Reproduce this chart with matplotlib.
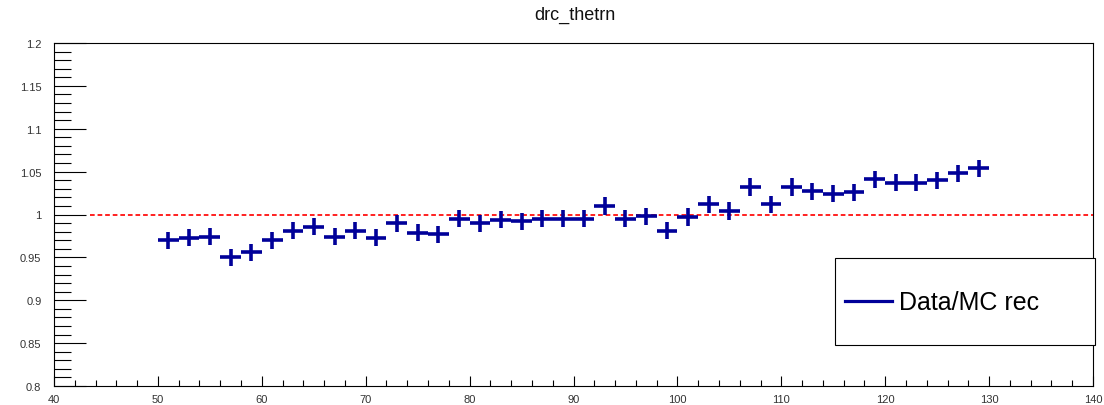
# drc_thetrn : Data/MC ratio
import matplotlib
matplotlib.use("Agg")
import matplotlib.pyplot as plt
from matplotlib.patches import Rectangle
from matplotlib.lines import Line2D
from matplotlib.ticker import MultipleLocator

plt.rcParams['font.family'] = ['Liberation Sans', 'DejaVu Sans']

# bin centres (bin width 2)
theta = [51, 53, 55, 57, 59, 61, 63, 65, 67, 69,
         71, 73, 75, 77, 79, 81, 83, 85, 87, 89,
         91, 93, 95, 97, 99, 101, 103, 105, 107, 109,
         111, 113, 115, 117, 119, 121, 123, 125, 127, 129]
ratio = [0.970, 0.973, 0.974, 0.950, 0.956, 0.970, 0.981, 0.986, 0.974, 0.981,
         0.973, 0.990, 0.979, 0.977, 0.995, 0.990, 0.994, 0.992, 0.995, 0.995,
         0.995, 1.010, 0.995, 0.998, 0.981, 0.997, 1.012, 1.004, 1.032, 1.012,
         1.032, 1.027, 1.024, 1.026, 1.041, 1.037, 1.037, 1.040, 1.048, 1.054]
ratio_err = [0.010] * len(theta)
half_bin = [1.0] * len(theta)

navy = "#000099"

fig = plt.figure(figsize=(11.04, 4.06), dpi=100)
ax = fig.add_axes([54 / 1104, 1 - 387 / 406, (1093 - 54) / 1104, (387 - 44) / 406])

ax.axhline(1.0, xmin=0.035, color="#ff2020", lw=1.4, dashes=(2.4, 1.5), zorder=1)
ax.errorbar(theta, ratio, xerr=half_bin, yerr=ratio_err, fmt="none",
            ecolor=navy, elinewidth=2.6, capsize=0, zorder=3)

ax.set_xlim(40, 140)
ax.set_ylim(0.8, 1.2)
ax.xaxis.set_major_locator(MultipleLocator(10))
ax.xaxis.set_minor_locator(MultipleLocator(2))
ax.yaxis.set_major_locator(MultipleLocator(0.05))
ax.yaxis.set_minor_locator(MultipleLocator(0.01))
ax.yaxis.set_major_formatter(plt.FuncFormatter(lambda v, p: f"{v:g}"))

ax.tick_params(axis="both", which="both", direction="in", top=False, right=False,
               colors="black", labelcolor="#333333", labelsize=8, width=0.8)
ax.tick_params(axis="y", which="major", length=23, pad=9)
ax.tick_params(axis="y", which="minor", length=12)
ax.tick_params(axis="x", which="major", length=7.5, pad=6)
ax.tick_params(axis="x", which="minor", length=4.5)
for s in ax.spines.values():
    s.set_linewidth(0.8)
ax.set_axisbelow(False)

fig.text(575 / 1104, 1 - 15 / 406, "drc_thetrn", ha="center", va="center",
         fontsize=13, color="#111111")

# legend box
fig.add_artist(Rectangle((835 / 1104, 1 - 346 / 406), (1095 - 835) / 1104, (346 - 259) / 406,
                         transform=fig.transFigure, facecolor="white",
                         edgecolor="black", lw=0.8, zorder=5))
fig.add_artist(Line2D([845 / 1104, 892 / 1104], [1 - 302 / 406, 1 - 302 / 406],
                      transform=fig.transFigure, color=navy, lw=2.3, zorder=6))
fig.text(899 / 1104, 1 - 303 / 406, "Data/MC rec", ha="left", va="center",
         fontsize=18, color="black", zorder=6)

fig.savefig("out.png", dpi=100)
